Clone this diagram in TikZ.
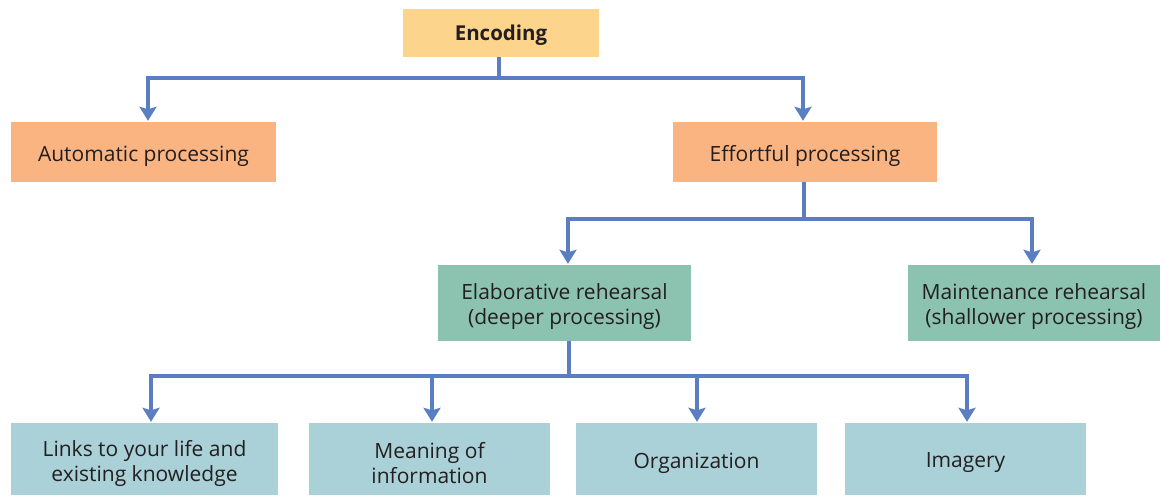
\documentclass[tikz,border=0pt]{standalone}
\usepackage{fontspec}
\setmainfont{Open Sans}
\usetikzlibrary{arrows.meta}
\definecolor{encfill}{HTML}{FCD48C}
\definecolor{orfill}{HTML}{F9B482}
\definecolor{grfill}{HTML}{8BC2B0}
\definecolor{blfill}{HTML}{AAD1D7}
\definecolor{conn}{HTML}{5A7EC2}
\definecolor{txt}{HTML}{231F20}
\tikzset{
  boxtext/.style={text=txt, align=center, inner sep=0pt, font=\fontsize{21}{25}\selectfont},
  box/.style={draw=none, inner sep=0pt},
  txt/.style={label={[boxtext, yshift=-4pt]center:#1}},
  enctxt/.style={label={[boxtext, yshift=-2pt, font=\fontsize{20.5}{25}\selectfont\bfseries]center:#1}},
  encbox/.style={box, fill=encfill, minimum width=196pt, minimum height=48pt},
  orbox/.style={box, fill=orfill, minimum width=265pt, minimum height=60pt},
  grbox/.style={box, fill=grfill, minimum width=252pt, minimum height=76pt},
  blbox/.style={box, fill=blfill, minimum width=241pt, minimum height=72pt},
  link/.style={conn, line width=4pt, -{Stealth[length=14pt,width=17pt,inset=2.5pt]}, shorten >=1pt},
  stem/.style={conn, line width=4pt}
}
\begin{document}
\begin{tikzpicture}[x=1pt,y=-1pt]
\useasboundingbox (0,0) rectangle (1162,496);
\node[encbox, enctxt={Encoding}] (enc) at (501,33) {};
\node[orbox, txt={Automatic processing}] (auto) at (143.5,152) {};
\node[orbox, minimum width=264pt, txt={Effortful processing}] (eff) at (805,152) {};
\node[grbox, minimum width=253pt, txt={Elaborative rehearsal\\(deeper processing)}] (elab) at (564.5,303) {};
\node[grbox, txt={Maintenance rehearsal\\(shallower processing)}] (maint) at (1034,303) {};
\node[blbox, minimum width=267pt, txt={Links to your life and\\existing knowledge}] (links) at (144.5,459) {};
\node[blbox, txt={Meaning of\\information}] (mean) at (429.5,459) {};
\node[blbox, txt={Organization}] (org) at (696.5,459) {};
\node[blbox, txt={Imagery}] (img) at (965.5,459) {};
\coordinate (b1) at (0,77.5);
\coordinate (b2) at (0,219);
\coordinate (b3) at (0,376);
% level 1
\draw[stem] ([xshift=-2pt]enc.south) -- ([xshift=-2pt]enc.south |- b1);
\draw[link] ([xshift=-2pt]enc.south |- b1) -| ([xshift=4.5pt]auto.north);
\draw[link] ([xshift=-2pt]enc.south |- b1) -| ([xshift=-2pt]eff.north);
% level 2
\draw[stem] ([xshift=-1pt]eff.south) -- ([xshift=-1pt]eff.south |- b2);
\draw[link] ([xshift=-1pt]eff.south |- b2) -| ([xshift=3.5pt]elab.north);
\draw[link] ([xshift=-1pt]eff.south |- b2) -| ([xshift=-2pt]maint.north);
% level 3
\draw[stem] ([xshift=4.5pt]elab.south) -- ([xshift=4.5pt]elab.south |- b3);
\draw[link] ([xshift=4.5pt]elab.south |- b3) -| ([xshift=6.5pt]links.north);
\draw[link] ([xshift=4.5pt]elab.south |- b3) -| ([xshift=2.5pt]mean.north);
\draw[link] ([xshift=4.5pt]elab.south |- b3) -| ([xshift=0.5pt]org.north);
\draw[link] ([xshift=4.5pt]elab.south |- b3) -| ([xshift=1.5pt]img.north);
\end{tikzpicture}
\end{document}
